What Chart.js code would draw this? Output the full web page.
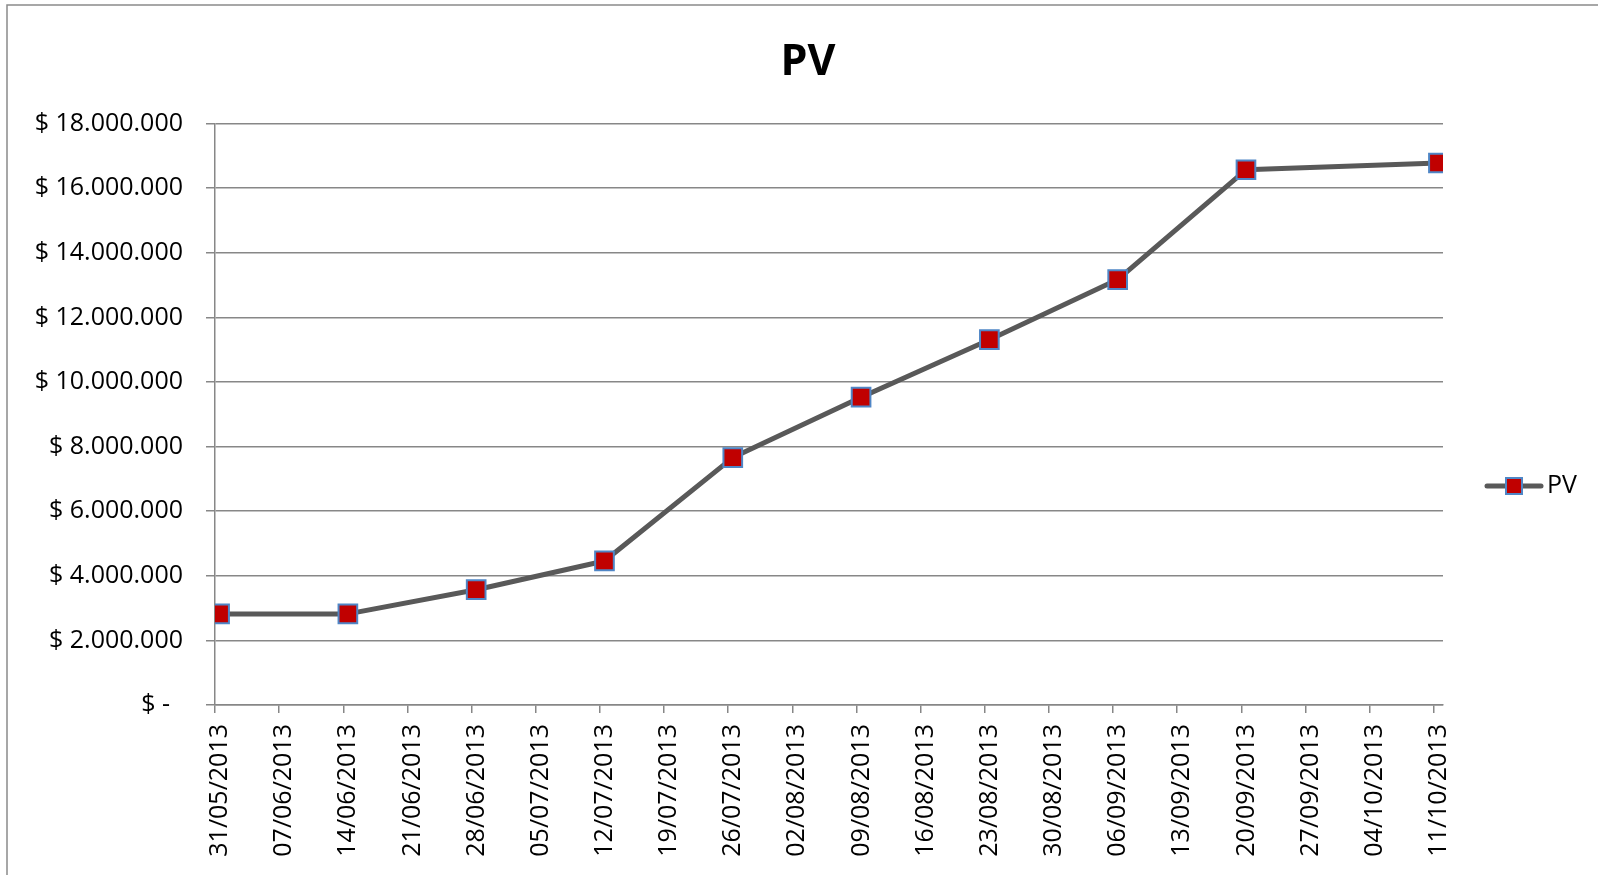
<!DOCTYPE html>
<html>
<head>
<meta charset="utf-8">
<script src="https://cdn.jsdelivr.net/npm/chart.js@4/dist/chart.umd.min.js"></script>
<style>
  html, body { margin: 0; padding: 0; background: #ffffff; }
  #wrap { width: 1598px; height: 875px; position: relative; }
</style>
</head>
<body>
<div id="wrap"><canvas id="c" width="1598" height="875"></canvas></div>
<script>
// ---- data ----
const seriesName = 'PV';
const tickLabels = [
  '31/05/2013','07/06/2013','14/06/2013','21/06/2013','28/06/2013',
  '05/07/2013','12/07/2013','19/07/2013','26/07/2013','02/08/2013',
  '09/08/2013','16/08/2013','23/08/2013','30/08/2013','06/09/2013',
  '13/09/2013','20/09/2013','27/09/2013','04/10/2013','11/10/2013'
];
const pointDates = [
  '31/05/2013','14/06/2013','28/06/2013','12/07/2013','26/07/2013',
  '09/08/2013','23/08/2013','06/09/2013','20/09/2013','11/10/2013'
];
const pvValues = [
  2820000, 2820000, 3570000, 4460000, 7660000,
  9530000, 11310000, 13170000, 16570000, 16780000
];
const yMin = 0, yMax = 18000000, yStep = 2000000;

// ---- helpers ----
function parseDate(s) {
  const [d, m, y] = s.split('/').map(Number);
  return Date.UTC(y, m - 1, d);
}
const startMs = parseDate(tickLabels[0]);
function dayIndex(s) { return Math.round((parseDate(s) - startMs) / 86400000); }
function fmtMoney(v) {
  if (v === 0) return '$ -  ';
  return '$ ' + String(v).replace(/\B(?=(\d{3})+(?!\d))/g, '.');
}

// Excel date axis: each date occupies a one-day slot; points sit mid-slot
const points = pointDates.map((d, i) => ({ x: dayIndex(d) + 0.5, y: pvValues[i] }));
const xMax = dayIndex(tickLabels[tickLabels.length - 1]) + 1;

const FONT = '"Open Sans", "DejaVu Sans", sans-serif';
const GRID = '#878787';

const framePlugin = {
  id: 'frameAndLegend',
  beforeDraw(chart) {
    const ctx = chart.ctx;
    ctx.save();
    ctx.fillStyle = '#ffffff';
    ctx.fillRect(0, 0, chart.width, chart.height);
    ctx.strokeStyle = '#8a8a8a';
    ctx.lineWidth = 1.5;
    ctx.strokeRect(7, 5, chart.width + 20, chart.height + 20);
    ctx.restore();
  },
  afterDraw(chart) {
    const ds = chart.data.datasets[0];
    const ctx = chart.ctx;
    const cx = 1514, cy = 486;
    ctx.save();
    ctx.strokeStyle = ds.borderColor;
    ctx.lineWidth = ds.borderWidth;
    ctx.lineCap = 'round';
    ctx.beginPath();
    ctx.moveTo(1487, cy);
    ctx.lineTo(1541, cy);
    ctx.stroke();
    ctx.fillStyle = ds.pointBackgroundColor;
    ctx.strokeStyle = ds.pointBorderColor;
    ctx.lineWidth = ds.pointBorderWidth;
    ctx.beginPath();
    ctx.rect(cx - 8, cy - 8, 16, 16);
    ctx.fill();
    ctx.stroke();
    ctx.fillStyle = '#000000';
    ctx.font = '25px ' + FONT;
    ctx.textAlign = 'left';
    ctx.textBaseline = 'middle';
    ctx.fillText(ds.label, 1547, cy);
    ctx.restore();
  }
};

new Chart(document.getElementById('c'), {
  type: 'line',
  data: {
    datasets: [{
      label: seriesName,
      data: points,
      yAxisID: 'y',
      borderColor: '#595959',
      borderWidth: 5,
      borderJoinStyle: 'round',
      borderCapStyle: 'round',
      pointStyle: 'rect',
      pointRadius: 13.2,
      pointHoverRadius: 13.2,
      pointBackgroundColor: '#c00000',
      pointBorderColor: '#4f86c6',
      pointBorderWidth: 2,
      tension: 0,
      fill: false
    }]
  },
  options: {
    responsive: false,
    animation: false,
    events: [],
    layout: { padding: { left: 18, right: 0, top: 5, bottom: 0 } },
    plugins: {
      legend: { display: false },
      tooltip: { enabled: false },
      title: {
        display: true,
        text: seriesName,
        color: '#000000',
        font: { family: FONT, size: 43, weight: 'bold', lineHeight: 1.2 },
        padding: { top: 32, bottom: 35 }
      }
    },
    scales: {
      x: {
        type: 'linear',
        min: 0,
        max: xMax,
        afterBuildTicks(scale) {
          scale.ticks = tickLabels.map(l => ({ value: dayIndex(l) }));
        },
        afterFit(scale) { scale.height = 170; },
        grid: {
          display: true,
          drawOnChartArea: false,
          drawTicks: true,
          tickLength: 8,
          color: GRID,
          lineWidth: 1.5
        },
        border: { display: true, color: GRID, width: 1.5 },
        ticks: {
          autoSkip: false,
          minRotation: 90,
          maxRotation: 90,
          padding: 11,
          labelOffset: 5,
          color: '#000000',
          font: { family: FONT, size: 25 },
          callback: (v, i) => tickLabels[i]
        }
      },
      y: {
        position: 'left',
        min: yMin,
        max: yMax,
        afterFit(scale) { scale.width = 197; },
        grid: {
          color: GRID,
          lineWidth: 1.5,
          drawTicks: true,
          tickLength: 9
        },
        border: { display: true, color: GRID, width: 1.5 },
        ticks: {
          stepSize: yStep,
          padding: 23,
          color: '#000000',
          font: { family: FONT, size: 25 },
          callback: v => fmtMoney(v)
        }
      },
      legendSpace: {
        type: 'linear',
        position: 'right',
        display: true,
        afterFit(scale) { scale.width = 155; },
        grid: { display: false, drawTicks: false },
        border: { display: false },
        ticks: { display: false }
      }
    }
  },
  plugins: [framePlugin]
});
</script>
</body>
</html>
